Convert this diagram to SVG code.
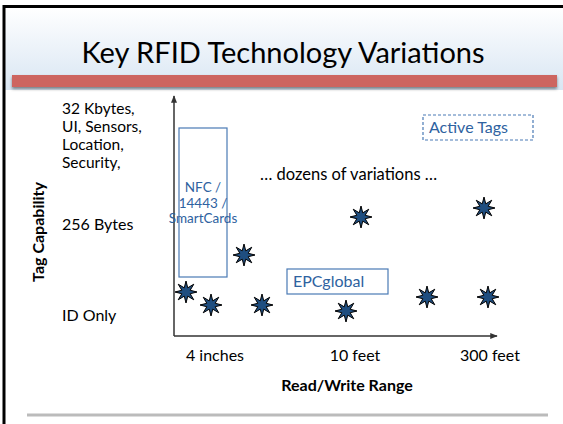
<svg xmlns="http://www.w3.org/2000/svg" width="563" height="424" viewBox="0 0 563 424">
<defs>
<linearGradient id="hdr" x1="0" y1="0" x2="0" y2="1">
<stop offset="0" stop-color="#ffffff"/>
<stop offset="1" stop-color="#d9e6f3"/>
</linearGradient>
<filter id="sh" x="-5%" y="-50%" width="110%" height="200%">
<feDropShadow dx="0" dy="2" stdDeviation="1.5" flood-color="#000" flood-opacity="0.45"/>
</filter>
<path id="star" d="M0,-11 L1.72,-4.16 L7.78,-7.78 L4.16,-1.72 L11,0 L4.16,1.72 L7.78,7.78 L1.72,4.16 L0,11 L-1.72,4.16 L-7.78,7.78 L-4.16,1.72 L-11,0 L-4.16,-1.72 L-7.78,-7.78 L-1.72,-4.16 Z"/>
<marker id="arr" viewBox="0 0 10 10" refX="9" refY="5" markerWidth="5" markerHeight="5" orient="auto">
<path d="M0,1 L10,5 L0,9 Z" fill="#333"/>
</marker>
</defs>
<style>
text{font-family:Lato,"Open Sans","Liberation Sans",sans-serif;fill:#000}
.lbl{font-size:16px}
.blue{fill:#2e62a0;font-size:15px}
.bold{font-weight:bold;font-size:16px}
.box{fill:none;stroke:#4a7ab5;stroke-width:1.2}
.st{fill:#1f4e80;stroke:#000;stroke-width:1}
.ax{stroke:#333;stroke-width:1.5;fill:none}
</style>
<rect x="0" y="0" width="563" height="424" fill="#fff"/>
<rect x="4" y="7" width="559" height="83" fill="url(#hdr)"/>
<path d="M4,424 V6.5 H563" fill="none" stroke="#000" stroke-width="3"/>
<rect x="12" y="75" width="545" height="12" fill="#cd6560" filter="url(#sh)"/>
<text x="283" y="63" text-anchor="middle" style="font-size:29px">Key RFID Technology Variations</text>
<line x1="27" y1="415" x2="548" y2="415" stroke="#bbb" stroke-width="3"/>

<g id="connectors">
<line class="ax" x1="174" y1="336" x2="174" y2="96" marker-end="url(#arr)"/>
<line class="ax" x1="174" y1="336" x2="497" y2="336" marker-end="url(#arr)"/>
</g>

<g id="y-labels">
<text class="lbl" x="62" y="114" style="font-size:15.5px">32 Kbytes,</text>
<text class="lbl" x="62" y="132" style="font-size:15.5px">UI, Sensors,</text>
<text class="lbl" x="62" y="150" style="font-size:15.5px">Location,</text>
<text class="lbl" x="62" y="168" style="font-size:15.5px">Security,</text>
<text class="lbl" x="62" y="230">256 Bytes</text>
<text class="lbl" x="62" y="321">ID Only</text>
<text class="bold" transform="translate(44,232) rotate(-90)" text-anchor="middle">Tag Capability</text>
</g>

<g id="x-labels">
<text class="lbl" x="215" y="361" text-anchor="middle">4 inches</text>
<text class="lbl" x="355" y="361" text-anchor="middle">10 feet</text>
<text class="lbl" x="490" y="361" text-anchor="middle">300 feet</text>
<text class="bold" x="347" y="391" text-anchor="middle">Read/Write Range</text>
</g>

<g id="nfc">
<rect class="box" x="179" y="128" width="48" height="149"/>
<text class="blue" x="203" y="192" text-anchor="middle" style="font-size:13.5px">NFC /</text>
<text class="blue" x="203" y="208" text-anchor="middle" style="font-size:13.5px">14443 /</text>
<text class="blue" x="203" y="223" text-anchor="middle" style="font-size:13.5px">SmartCards</text>
</g>

<g id="dozens">
<text class="lbl" x="260" y="180" style="font-size:16.5px">… dozens of variations …</text>
</g>

<g id="active-tags">
<rect class="box" x="423" y="115" width="110" height="25" stroke-dasharray="3,2"/>
<text class="blue" x="429" y="133" style="font-size:16px">Active Tags</text>
</g>

<g id="epcglobal">
<rect class="box" x="287" y="269" width="101" height="25"/>
<text class="blue" x="293" y="287" style="font-size:16px">EPCglobal</text>
</g>

<g id="stars">
<use href="#star" class="st" x="186" y="292"/>
<use href="#star" class="st" x="211" y="305"/>
<use href="#star" class="st" x="244" y="255"/>
<use href="#star" class="st" x="262" y="305"/>
<use href="#star" class="st" x="346" y="311"/>
<use href="#star" class="st" x="361" y="217"/>
<use href="#star" class="st" x="484" y="208"/>
<use href="#star" class="st" x="427" y="297"/>
<use href="#star" class="st" x="488" y="297"/>
</g>
</svg>
